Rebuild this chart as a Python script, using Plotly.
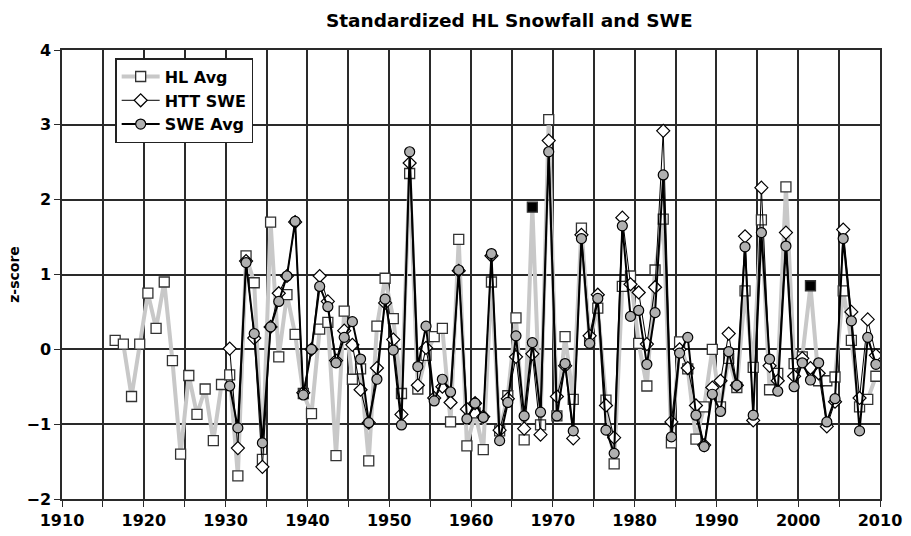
import plotly.graph_objects as go

# ---- data ----
hl_years = list(range(1916, 2010))
hl_avg = [0.12, 0.07, -0.63, 0.07, 0.75, 0.28, 0.90, -0.15, -1.40, -0.35,
          -0.87, -0.53, -1.22, -0.47, -0.34, -1.69, 1.25, 0.89, -1.47, 1.70,
          -0.10, 0.73, 0.20, -0.59, -0.86, 0.27, 0.36, -1.42, 0.51, -0.40,
          -0.26, -1.49, 0.31, 0.95, 0.41, -0.59, 2.35, -0.53, -0.08, 0.17,
          0.28, -0.97, 1.47, -1.29, -0.85, -1.34, 0.90, -1.09, -0.62, 0.42,
          -1.21, 1.90, -1.01, 3.07, -0.89, 0.17, -0.67, 1.62, 0.12, 0.55,
          -0.68, -1.53, 0.84, 0.98, 0.08, -0.49, 1.06, 1.74, -1.25, 0.10,
          -0.26, -1.20, -0.77, 0.00, -0.77, -0.12, -0.51, 0.78, -0.24, 1.73,
          -0.54, -0.32, 2.17, -0.19, -0.10, 0.85, -0.42, -0.42, -0.37, 0.78,
          0.12, -0.77, -0.67, -0.36]
hl_estimated_years = [1967, 2001]

swe_years = list(range(1930, 2010))
htt_swe = [0.01, -1.32, 1.18, 0.15, -1.57, 0.30, 0.75, 0.98, 1.70, -0.58,
           0.00, 0.98, 0.64, -0.15, 0.25, 0.06, -0.54, -0.98, -0.25, 0.62,
           0.13, -0.87, 2.49, -0.48, 0.02, -0.65, -0.50, -0.71, 1.05, -0.80,
           -0.72, -0.90, 1.25, -1.08, -0.66, -0.10, -1.06, -0.06, -1.14, 2.79,
           -0.63, -0.22, -1.19, 1.53, 0.18, 0.73, -0.75, -1.18, 1.76, 0.87,
           0.76, 0.07, 0.83, 2.92, -0.97, 0.00, -0.25, -0.75, -1.28, -0.51,
           -0.42, 0.21, -0.48, 1.51, -0.95, 2.16, -0.22, -0.42, 1.56, -0.36,
           -0.12, -0.25, -0.32, -1.03, -0.70, 1.60, 0.50, -0.65, 0.40, -0.08]
swe_avg = [-0.49, -1.05, 1.16, 0.21, -1.25, 0.30, 0.64, 0.98, 1.71, -0.61,
           0.00, 0.84, 0.57, -0.18, 0.16, 0.37, -0.13, -0.98, -0.40, 0.67,
           -0.01, -1.01, 2.64, -0.23, 0.31, -0.69, -0.40, -0.57, 1.06, -0.93,
           -0.72, -0.91, 1.28, -1.22, -0.71, 0.18, -0.89, 0.09, -0.84, 2.64,
           -0.89, -0.19, -1.09, 1.48, 0.08, 0.68, -1.08, -1.39, 1.65, 0.44,
           0.52, -0.20, 0.49, 2.33, -1.17, -0.05, 0.16, -0.88, -1.30, -0.60,
           -0.83, -0.03, -0.48, 1.37, -0.88, 1.56, -0.13, -0.56, 1.38, -0.50,
           -0.18, -0.41, -0.18, -0.97, -0.66, 1.48, 0.38, -1.09, 0.16, -0.20]

x_tick_vals = list(range(1910, 2011, 10))
y_tick_vals = list(range(-2, 5))

# points are drawn at mid-year
def mid(years):
    return [y + 0.5 for y in years]

hl_fill = ['black' if y in hl_estimated_years else 'white' for y in hl_years]

FONT = "DejaVu Sans"
GRID = "#2a2a2a"

fig = go.Figure()
fig.add_trace(go.Scatter(
    x=mid(hl_years), y=hl_avg, name="HL Avg", mode="lines+markers",
    line=dict(color="#c8c8c8", width=4),
    marker=dict(symbol="square", size=10, color=hl_fill,
                line=dict(color="#333333", width=1.3)),
))
fig.add_trace(go.Scatter(
    x=mid(swe_years), y=htt_swe, name="HTT SWE", mode="lines+markers",
    line=dict(color="black", width=1),
    marker=dict(symbol="diamond", size=10, color="white",
                line=dict(color="black", width=1.2)),
))
fig.add_trace(go.Scatter(
    x=mid(swe_years), y=swe_avg, name="SWE Avg", mode="lines+markers",
    line=dict(color="black", width=2),
    marker=dict(symbol="circle", size=10, color="#b0b0b0",
                line=dict(color="black", width=1.2)),
))

fig.update_layout(
    width=911, height=536,
    margin=dict(l=62, r=31, t=50, b=37),
    paper_bgcolor="white", plot_bgcolor="white",
    font=dict(family=FONT, color="black"),
    title=dict(text="<b>Standardized HL Snowfall and SWE</b>",
               x=0.559, xanchor="center", y=0.962, yanchor="middle",
               automargin=False,
               font=dict(size=18.5, family=FONT, color="black")),
    showlegend=True,
    legend=dict(x=0.065, y=0.982, xanchor="left", yanchor="top",
                bgcolor="white", bordercolor="#222222", borderwidth=1.5,
                font=dict(size=16, family=FONT, color="black", weight="bold"),
                tracegroupgap=0, itemwidth=38),
)
fig.update_xaxes(
    range=[1910, 2010], tickvals=x_tick_vals, automargin=False,
    ticks="outside", ticklen=6, tickcolor=GRID, tickwidth=1.2,
    tickfont=dict(size=16, family=FONT, color="black", weight="bold"),
    showgrid=True, gridcolor=GRID, gridwidth=1.5,
    minor=dict(dtick=5, tick0=1910, showgrid=True, gridcolor=GRID, gridwidth=1.5,
               ticks="outside", ticklen=6, tickcolor=GRID),
    showline=True, linecolor=GRID, linewidth=1.5, mirror=True,
    zeroline=False,
)
fig.update_yaxes(
    range=[-2, 4], tickvals=y_tick_vals, automargin=False,
    ticks="outside", ticklen=6, tickcolor=GRID, tickwidth=1.2,
    tickfont=dict(size=16, family=FONT, color="black", weight="bold"),
    showgrid=True, gridcolor=GRID, gridwidth=1.5,
    showline=True, linecolor=GRID, linewidth=1.5, mirror=True,
    zeroline=False,
    title=dict(text="<b>z-score</b>", font=dict(size=14, family=FONT, color="black"),
               standoff=4),
)

fig.write_html(
    "out.html",
    config={"displayModeBar": False},
    post_script="document.body.style.margin='0';document.body.style.padding='0';",
)
